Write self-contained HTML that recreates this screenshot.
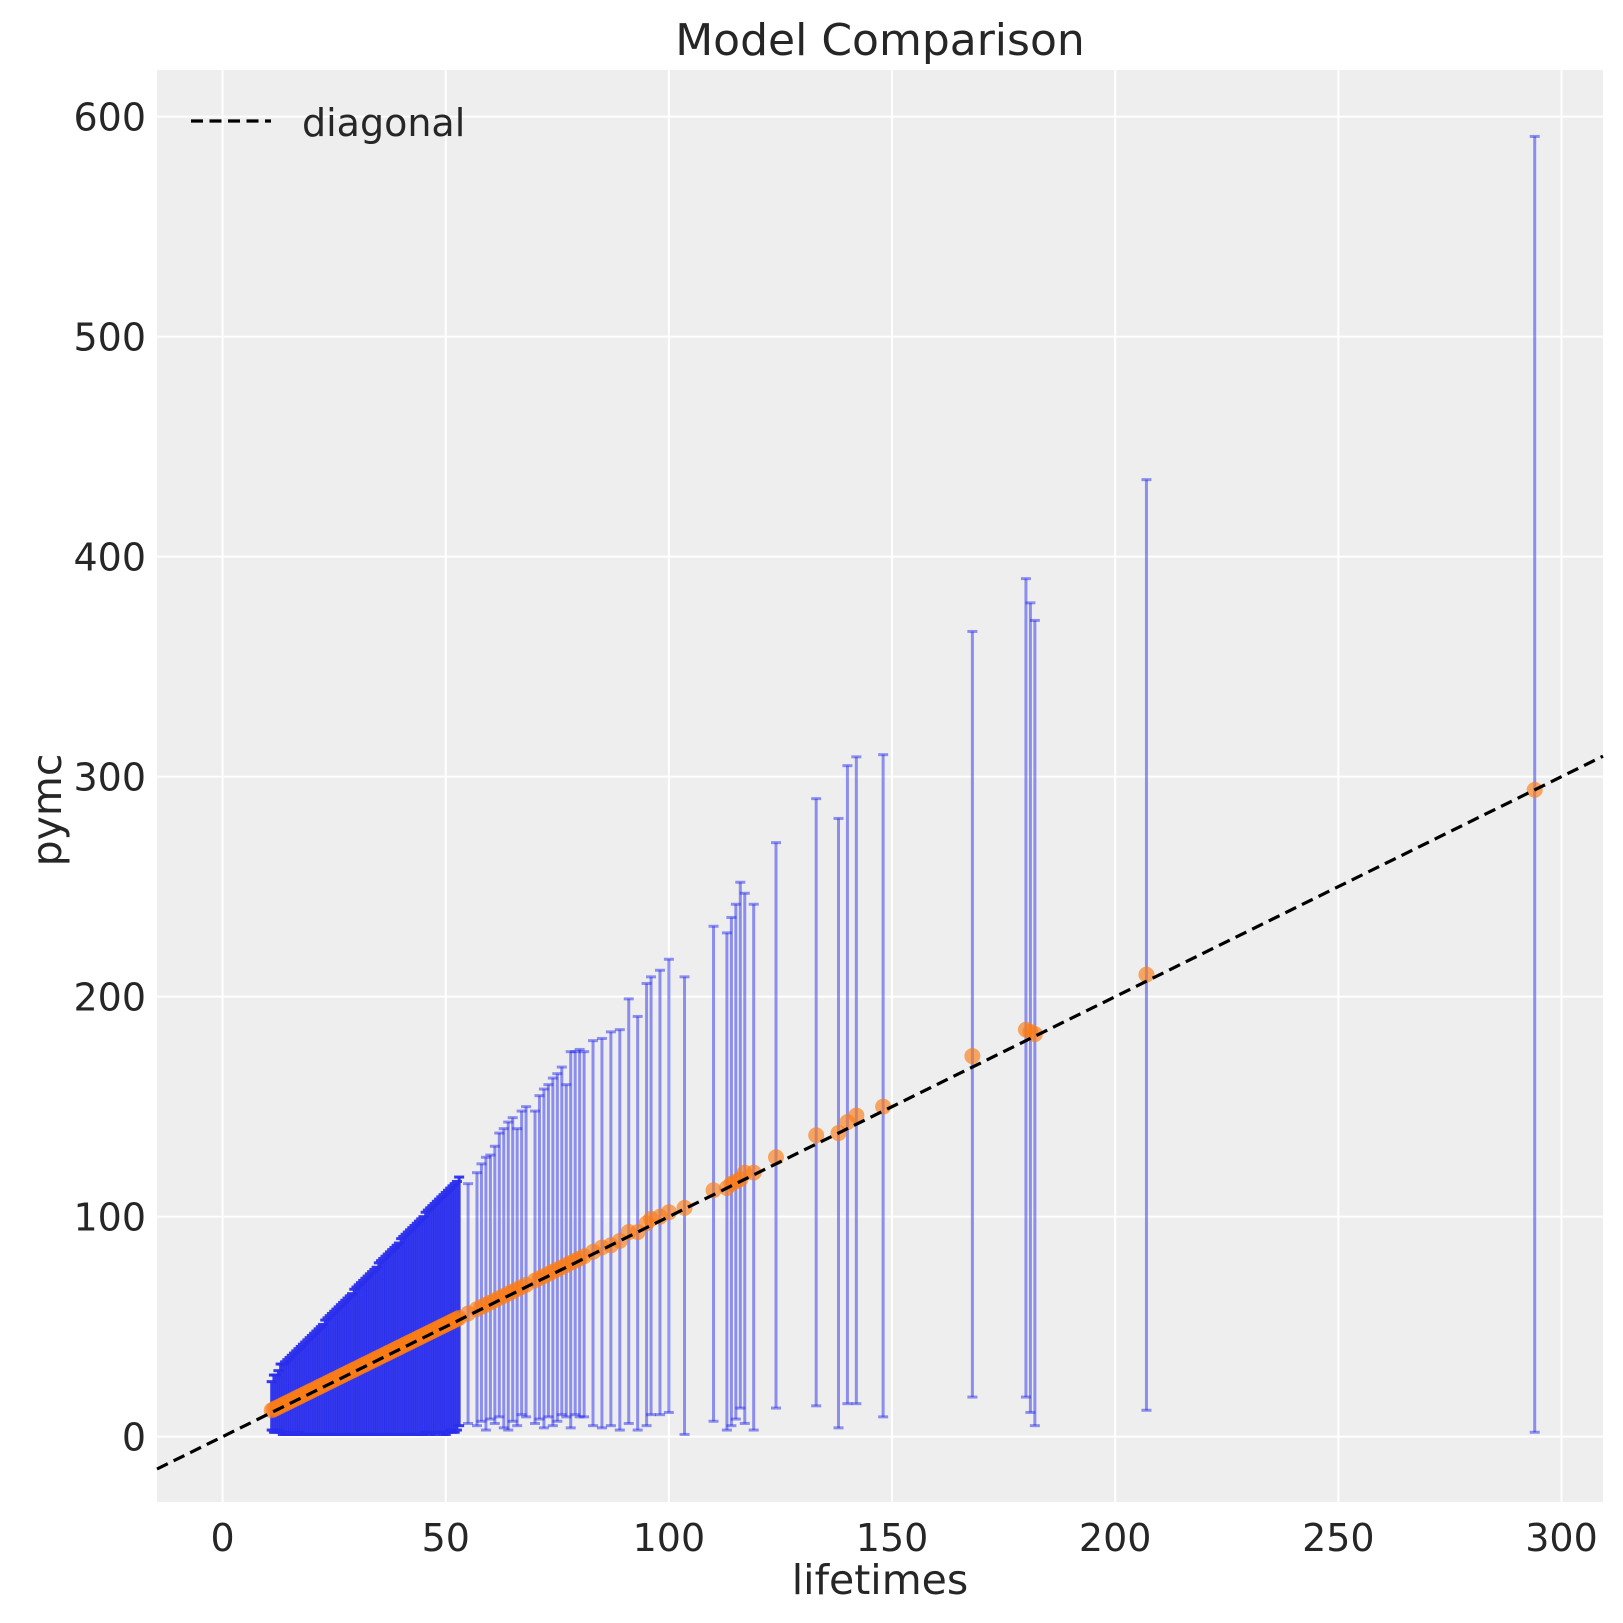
<!DOCTYPE html>
<html><head><meta charset="utf-8"><style>
html,body{margin:0;padding:0;background:#fff;}
svg{display:block;font-family:"DejaVu Sans","Liberation Sans",sans-serif;}
</style></head><body>
<svg id="chart" width="1623" height="1623" viewBox="0 0 1623 1623" xmlns="http://www.w3.org/2000/svg">
<rect x="157" y="70" width="1446" height="1432" fill="#eeeeee"/>
<g id="grid"></g>
<g id="xticks"></g>
<g id="yticks"></g>
<g id="bars"></g>
<g id="pts"></g>
<line id="diag" stroke="#000" stroke-width="3.2" stroke-dasharray="12,6.5"/>
<text x="880" y="55" font-size="44" text-anchor="middle" fill="#262626">Model Comparison</text>
<text x="880" y="1594" font-size="41" text-anchor="middle" fill="#262626">lifetimes</text>
<text transform="translate(61,810) rotate(-90)" font-size="41" text-anchor="middle" fill="#262626">pymc</text>
<g>
<line x1="191" y1="121" x2="271" y2="121" stroke="#000" stroke-width="3.2" stroke-dasharray="12,6.5"/>
<text x="302" y="136" font-size="38" fill="#262626">diagonal</text>
</g>
</svg>
<script>
const lifetimes=[11,11.5,12,12.5,13,13.5,14,14.5,15,15.5,16,16.5,17,17.5,18,18.5,19,19.5,20,20.5,21,21.5,22,22.5,23,23.5,24,24.5,25,25.5,26,26.5,27,27.5,28,28.5,29,29.5,30,30.5,31,31.5,32,32.5,33,33.5,34,34.5,35,35.5,36,36.5,37,37.5,38,38.5,39,39.5,40,40.5,41,41.5,42,42.5,43,43.5,44,44.5,45,45.5,46,46.5,47,47.5,48,48.5,49,49.5,50,50.5,51,51.5,52,52.5,53,
55,57,58,59,60,61,62,63,64,65,66,67,68,70,71,72,73,74,75,76,77,78,79,80,
81,83,85,87,89,91,93,95,96,98,100,103.5,110,113,114,115,116,117,119,124,133,138,140,142,148,168,180,181,182,207,294];
const pymcMean=[12,12.5,13,13.5,14,14.5,15,15.5,16,16.5,17,17.5,18,18.5,19,19.5,20,20.5,21,21.5,22,22.5,23,23.5,24,24.5,25,25.5,26,26.5,27,27.5,28,28.5,29,29.5,30,30.5,31,31.5,32,32.5,33,33.5,34,34.5,35,35.5,36,36.5,37,37.5,38,38.5,39,39.5,40,40.5,41,41.5,42,42.5,43,43.5,44,44.5,45,45.5,46,46.5,47,47.5,48,48.5,49,49.5,50,50.5,51,51.5,52,52.5,53,53.5,54,
56,58,59,60,61,62,63,64,65,66,67,68,69,71,72,73,74,75,76,77,78,79,80,81,
82,84,86,87,89,93,93,97,99,100,102,104,112,113,115,116,117,120,120,127,137,138,143,146,150,173,185,184,183,210,294];
const lowerBound=[3,2,2,3,2,1,1,2,1,1,1,1,2,1,1,1,1,1,1,1,1,1,1,1,1,1,1,1,1,1,1,1,1,1,1,1,1,1,1,1,1,1,1,1,1,1,1,1,1,1,1,1,1,1,1,1,1,1,1,1,1,1,1,1,1,1,1,1,1,2,2,1,2,1,2,2,2,1,1,2,3,2,2,3,5,
6,5,7,3,8,6,9,4,3,7,5,10,9,6,8,4,9,5,7,10,9,4,10,9,
9,5,4,5,3,6,3,5,10,10,11,1,7,3,5,8,13,6,3,13,14,4,15,15,9,18,18,11,5,12,2];
const upperBound=[25,28,28,30,33,33,34,35,36,37,38,39,40,41,42,43,44,45,46,47,48,49,50,51,53,54,55,56,57,58,59,60,61,62,63,64,65,67,68,69,70,71,72,73,74,75,76,77,79,80,81,82,83,84,85,86,87,88,90,91,92,93,94,95,96,97,98,99,100,102,103,104,105,106,107,108,109,110,111,112,113,114,115,116,118,
115,120,124,127,128,132,138,140,143,145,140,148,150,148,155,158,160,163,165,168,160,175,175,176,
175,180,181,184,185,199,191,206,209,212,217,209,232,229,236,242,252,247,242,270,290,281,305,309,310,366,390,379,371,435,591];
const xTicks=[0,50,100,150,200,250,300];
const yTicks=[0,100,200,300,400,500,600];

const NS="http://www.w3.org/2000/svg";
const L=157,R=1603,T=70,B=1502;
const xMin=-14.7,xMax=309.3,yMin=-29.7,yMax=621.2;
function sx(v){return L+(v-xMin)/(xMax-xMin)*(R-L);}
function sy(v){return B-(v-yMin)/(yMax-yMin)*(B-T);}
function mk(tag,attrs,parent){const e=document.createElementNS(NS,tag);for(const k in attrs)e.setAttribute(k,attrs[k]);parent.appendChild(e);return e;}

const grid=document.getElementById('grid'),xt=document.getElementById('xticks'),yt=document.getElementById('yticks');
xTicks.forEach(t=>{
  const g=mk('line',{x1:sx(t),x2:sx(t),y1:T,y2:B,stroke:'#fff','stroke-width':2},grid);
  
  
  const tx=mk('text',{x:sx(t),y:1551,'font-size':38,'text-anchor':'middle',fill:'#262626'},xt);
  tx.textContent=t;
  
  
});
yTicks.forEach(t=>{
  const g=mk('line',{x1:L,x2:R,y1:sy(t),y2:sy(t),stroke:'#fff','stroke-width':2},grid);
  
  
  const tx=mk('text',{x:146,y:sy(t)+14,'font-size':38,'text-anchor':'end',fill:'#262626'},yt);
  tx.textContent=t;
  
  
});

const bars=document.getElementById('bars'),pts=document.getElementById('pts');
lifetimes.forEach((x,i)=>{
  const dense=lifetimes.some((o,j)=>j!==i&&Math.abs(o-x)<0.6);
  const g=mk('g',{stroke:'#2a2eec','stroke-opacity':dense?0.95:0.5,'stroke-width':3},bars);
  
  
  const X=sx(x),y1=sy(lowerBound[i]),y2=sy(upperBound[i]);
  mk('line',{x1:X,x2:X,y1:y1,y2:y2},g);
  mk('line',{x1:X-5,x2:X+5,y1:y1,y2:y1},g);
  mk('line',{x1:X-5,x2:X+5,y1:y2,y2:y2},g);
});
lifetimes.forEach((x,i)=>{
  const c=mk('circle',{cx:sx(x),cy:sy(pymcMean[i]),r:8,fill:'#fa7c17','fill-opacity':0.65},pts);
  
  
});
const d=document.getElementById('diag');
d.setAttribute('x1',sx(xMin));d.setAttribute('y1',sy(xMin));
d.setAttribute('x2',sx(xMax));d.setAttribute('y2',sy(xMax));
</script>
</body></html>
